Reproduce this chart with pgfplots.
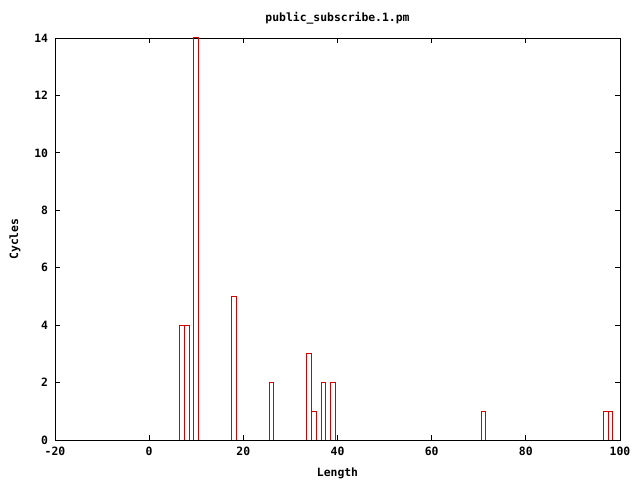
\documentclass[border=0pt]{standalone}
\usepackage{fontspec}
\setmainfont{DejaVu Sans Mono}
\usepackage{pgfplots}
\pgfplotsset{compat=1.18}
\definecolor{gpred}{RGB}{215,0,0}
\newcommand{\gpfont}{\fontsize{11.4bp}{13bp}\selectfont\bfseries}
\begin{document}
\gpfont
\begin{tikzpicture}
\path[use as bounding box] (-55bp,-40bp) rectangle (585bp,440bp);
\begin{axis}[
  at={(0,0)}, anchor=south west,
  scale only axis, width=565bp, height=402bp,
  xmin=-20, xmax=100, ymin=0, ymax=14,
  ybar, bar width=1, bar shift=0,
  xtick={-20,0,20,40,60,80,100},
  ytick={0,2,4,6,8,10,12,14},
  tick align=inside, xtick pos=both, ytick pos=both,
  major tick length=5bp,
  /pgf/number format/assume math mode=true,
  tick label style={font=\gpfont},
  label style={font=\gpfont},
  title style={font=\gpfont, yshift=4bp},
  title={public\_subscribe.1.pm},
  xlabel={Length}, ylabel={Cycles},
  xlabel style={yshift=-4bp},
  ylabel style={yshift=6bp},
  axis line style={black, line width=0.8bp},
  every tick/.style={black, line width=0.8bp},
  xticklabel style={yshift=-3bp},
  yticklabel style={xshift=-3bp},
]
\addplot[draw=gpred, fill=none, line width=1bp]
coordinates {
(7,4) (8,4) (10,14) (18,5) (26,2) (34,3) (35,1) (37,2) (39,2) (71,1) (97,1) (98,1)
};
\end{axis}
\end{tikzpicture}
\end{document}
